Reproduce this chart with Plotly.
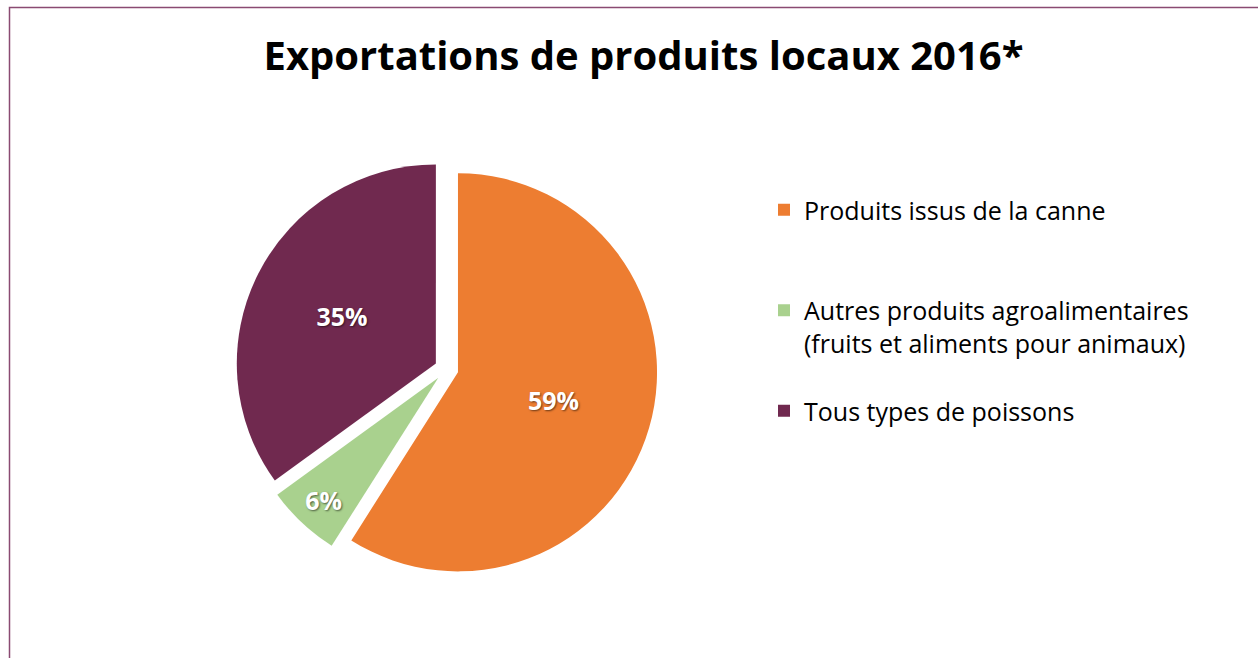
import plotly.graph_objects as go

# Data
categories = [
    "Produits issus de la canne",
    "Autres produits agroalimentaires<br>(fruits et aliments pour animaux)",
    "Tous types de poissons",
]
values = [59, 6, 35]
colors = ["#ED7D31", "#A9D18E", "#70294F"]
title_text = "<b>Exportations de produits locaux 2016*</b>"

W, H = 1258, 658

# legend labels padded with blank lines to mimic Excel spacing
legend_labels = [
    categories[0] + "<br> <br> ",
    categories[1] + "<br> ",
    categories[2],
]

cx, cy, R = 446.5, 369.0, 211.0

fig = go.Figure(
    go.Pie(
        labels=legend_labels,
        values=values,
        sort=False,
        direction="clockwise",
        rotation=0,
        pull=[0.06, 0.06, 0.06],
        marker=dict(colors=colors, line=dict(width=0)),
        textinfo="percent",
        texttemplate="<b>%{percent:.0%}</b>",
        textposition="inside",
        insidetextorientation="horizontal",
        insidetextfont=dict(
            family="Open Sans", size=25, color="white",
            shadow="1px 1px 2px rgba(0,0,0,0.55)",
        ),
        hoverinfo="label+percent",
        domain=dict(
            x=[(cx - R) / W, (cx + R) / W],
            y=[1 - (cy + R) / H, 1 - (cy - R) / H],
        ),
    )
)

fig.update_layout(
    width=W,
    height=H,
    margin=dict(l=0, r=0, t=0, b=0),
    paper_bgcolor="white",
    plot_bgcolor="white",
    title=dict(
        text=title_text,
        x=643.5 / W,
        xanchor="center",
        y=1 - 56 / H,
        yanchor="middle",
        font=dict(family="Open Sans", size=40, color="black"),
    ),
    legend=dict(
        x=764 / W,
        xanchor="left",
        y=1 - 187 / H,
        yanchor="top",
        valign="top",
        font=dict(family="Open Sans", size=25, color="black"),
        itemclick=False,
        bgcolor="rgba(0,0,0,0)",
    ),
    shapes=[
        dict(
            type="rect",
            xref="paper",
            yref="paper",
            x0=9.5 / W,
            x1=1.05,
            y0=-0.05,
            y1=1 - 7.5 / H,
            line=dict(color="#8A4A72", width=1.5),
            fillcolor="rgba(0,0,0,0)",
            layer="below",
        )
    ],
)

fig.write_html(
    "out.html",
    config={"displayModeBar": False},
    post_script="document.body.style.margin='0';document.body.style.overflow='hidden';",
)
